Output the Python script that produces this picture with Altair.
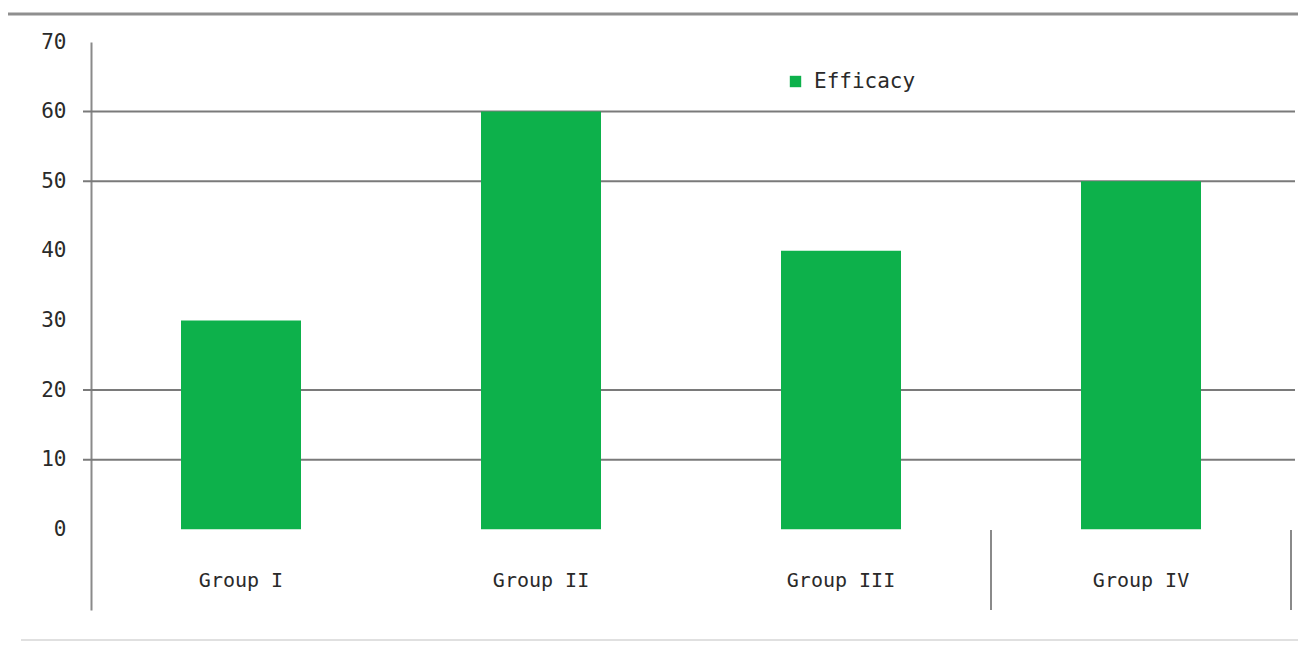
import altair as alt
import pandas as pd

groups = ["Group I", "Group II", "Group III", "Group IV"]
values = [30, 60, 40, 50]
series_name = "Efficacy"
y_ticks = [0, 10, 20, 30, 40, 50, 60, 70]
grid_values = [10, 20, 50, 60]
divider_positions = [3, 4]

df = pd.DataFrame({"group": groups, "value": values, "series": [series_name] * 4})
grid_df = pd.DataFrame({"v": grid_values})
div_df = pd.DataFrame({"p": divider_positions})
lab_df = pd.DataFrame({"group": groups, "y": [-7.5] * 4})

FONT = "DejaVu Sans Mono"
TXT = "#2a2a2a"
GREEN = "#0db14b"
YDOM = [-11.6, 70]

xscale = alt.Scale(domain=groups, paddingInner=0.6, paddingOuter=0.3)
yscale = alt.Scale(domain=YDOM, nice=False, zero=False)

grid = alt.Chart(grid_df).mark_rule(color="#7a7a7a", strokeWidth=2).encode(
    y=alt.Y("v:Q", scale=yscale,
            axis=alt.Axis(values=y_ticks, grid=False, ticks=False, domain=True,
                          domainColor="#8a8a8a", domainWidth=2, labelPadding=25,
                          labelFontSize=21, labelFont=FONT, labelColor=TXT,
                          title=None)),
    x=alt.value(-8),
    x2=alt.value(1204),
)

bars = alt.Chart(df).mark_bar(color=GREEN).encode(
    x=alt.X("group:N", scale=xscale, axis=None, sort=groups),
    y=alt.Y("value:Q", scale=yscale),
    y2=alt.datum(0),
    color=alt.Color("series:N", scale=alt.Scale(range=[GREEN]),
                    legend=alt.Legend(title=None, orient="none", legendX=694, legendY=29,
                                      symbolType="square", symbolSize=130,
                                      symbolStrokeWidth=0, labelFontSize=21,
                                      labelOffset=8,
                                      labelFont=FONT, labelColor=TXT)),
)

labels = alt.Chart(lab_df).mark_text(font=FONT, fontSize=20, color=TXT).encode(
    x=alt.X("group:N", scale=xscale, axis=None, sort=groups),
    y=alt.Y("y:Q", scale=yscale),
    text="group:N",
)

dividers = alt.Chart(div_df).mark_rule(color="#8a8a8a", strokeWidth=2).encode(
    x=alt.X("p:Q", scale=alt.Scale(domain=[0, 4], nice=False), axis=None),
    y=alt.value(488),
    y2=alt.value(568),
)

top_line = alt.Chart(grid_df.head(1)).mark_rule(color="#8f8f8f", strokeWidth=3).encode(
    x=alt.value(-86), x2=alt.value(1223), y=alt.value(-28)
)
bottom_line = alt.Chart(grid_df.head(1)).mark_rule(color="#e0e0e0", strokeWidth=2).encode(
    x=alt.value(-70), x2=alt.value(1223), y=alt.value(598)
)

chart = alt.layer(grid, bars, labels, dividers, top_line, bottom_line).resolve_scale(
    x="independent"
).properties(
    width=1200, height=568,
    background="white",
    autosize=alt.AutoSizeParams(type="none"),
    padding={"left": 83, "top": 34, "right": 7, "bottom": 31},
).configure_view(strokeWidth=0, stroke="transparent")

chart.save("out.html", embed_options={"renderer": "svg", "actions": False})
